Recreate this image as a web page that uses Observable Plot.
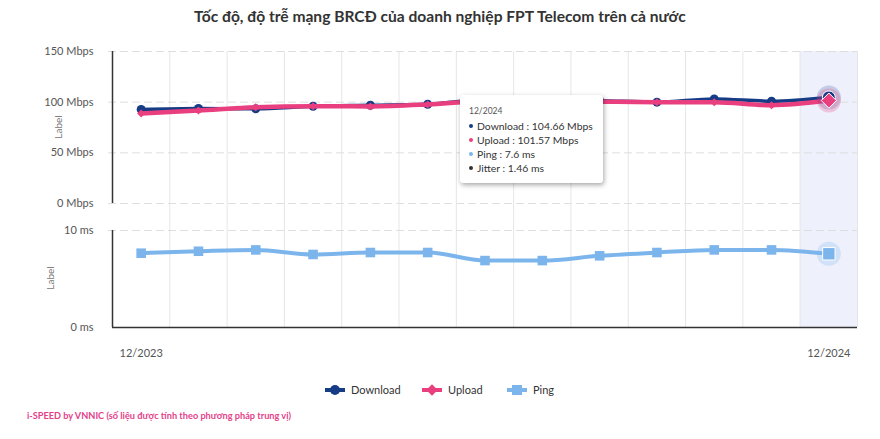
<!DOCTYPE html>
<html><head><meta charset="utf-8">
<script src="https://cdn.jsdelivr.net/npm/d3@7"></script>
<script src="https://cdn.jsdelivr.net/npm/@observablehq/plot@0.6"></script>
<style>
body{margin:0;background:#fff;font-family:Lato,"Noto Sans",sans-serif;}
#wrap{position:relative;width:880px;height:439px;overflow:hidden;background:#fff;}
#title{position:absolute;left:0;width:880px;top:7px;text-align:center;font-weight:700;font-size:15.6px;color:#333;}
.plot{position:absolute;left:0;}
.plot svg{overflow:visible;}
.ylab{position:absolute;font-size:10px;color:#777;transform:translate(-50%,-50%) rotate(-90deg);white-space:nowrap;}
.leg{position:absolute;top:383px;display:flex;align-items:center;font-size:11px;color:#333;}
.leg svg{margin-right:6px;}
#caption{position:absolute;left:27px;top:410px;font-size:9.2px;font-weight:700;color:#e4418a;white-space:nowrap;}
#tip{position:absolute;left:460px;top:95px;width:143px;height:88px;box-sizing:border-box;background:#fff;border-radius:3px;box-shadow:1px 2px 5px rgba(0,0,0,0.35);padding:9px 8px 0 9px;font-size:10.4px;color:#333;line-height:14px;white-space:nowrap;}
#tip .hd{font-size:8.5px;color:#555;margin-bottom:1px;}
#tip .b{display:inline-block;width:4px;height:4px;border-radius:50%;margin-right:4px;vertical-align:middle;position:relative;top:-1px;}
</style></head><body>
<div id="wrap">
  <div id="title">Tốc độ, độ trễ mạng BRCĐ của doanh nghiệp FPT Telecom trên cả nước</div>
  <div id="top" class="plot" style="top:40px"></div>
  <div id="bot" class="plot" style="top:203px"></div>
  <div class="ylab" style="left:58px;top:127px">Label</div>
  <div class="ylab" style="left:50px;top:278px">Label</div>
  <div id="legend"></div>
  <div id="tip"></div>
  <div id="caption">i-SPEED by VNNIC (số liệu được tính theo phương pháp trung vị)</div>
</div>
<script>
const months = ["12/2023","01/2024","02/2024","03/2024","04/2024","05/2024","06/2024","07/2024","08/2024","09/2024","10/2024","11/2024","12/2024"];
const download = [92.8, 93.8, 93.4, 96, 97, 98, 102.5, 102, 101.5, 100, 103.2, 101, 104.66];
const upload   = [88.9, 91.8, 95, 96, 95.8, 97.7, 101, 101, 100.5, 100, 100, 97, 101.57];
const ping     = [7.66, 7.86, 8.0, 7.53, 7.73, 7.73, 6.9, 6.9, 7.39, 7.73, 8.0, 8.0, 7.6];
const jitterLast = 1.46;
const mbpsTicks = [0, 50, 100, 150];
const msTicks = [0, 10];
const seriesNames = ["Download", "Upload", "Ping"];

const C = {download: "#173c86", upload: "#ea3f7f", ping: "#7cb5ec", grid: "#e6e6e6", dash: "#dedede", axis: "#333", band: "#eef0fc"};

const rows = months.map((m, i) => ({i, m, download: download[i], upload: upload[i], ping: ping[i]}));
const last = rows[rows.length - 1];
const body = rows.slice(0, -1);
const edges = rows.map(d => d.i + 0.5);
const xDomain = [-0.5, months.length - 0.5];
const curve = "monotone-x";
const font = {background: "transparent", overflow: "visible", fontFamily: "Lato, 'Noto Sans', sans-serif", fontSize: "11px", color: "#555"};

const topPlot = Plot.plot({
  width: 880, height: 163, marginTop: 11, marginBottom: 0, marginLeft: 112, marginRight: 23,
  style: font,
  x: {type: "linear", domain: xDomain, axis: null},
  y: {domain: [0, 150], ticks: mbpsTicks, tickFormat: d => `${d} Mbps`, tickSize: 0, tickPadding: 19, label: null},
  marks: [
    Plot.rect([last], {x1: d => d.i - 0.5, x2: d => d.i + 0.5, fill: C.band}),
    Plot.ruleX(edges, {stroke: C.grid}),
    Plot.ruleY(mbpsTicks, {stroke: C.dash, strokeDasharray: "8,4", insetLeft: -4}),
    Plot.ruleX([xDomain[0]], {stroke: C.axis, strokeWidth: 1.5}),
    Plot.line(rows, {x: "i", y: "download", stroke: C.download, strokeWidth: 3.5, curve}),
    Plot.dot(body, {x: "i", y: "download", r: 4.5, fill: C.download}),
    Plot.line(rows, {x: "i", y: "upload", stroke: C.upload, strokeWidth: 4.5, curve}),
    Plot.dot(body, {x: "i", y: "upload", symbol: "diamond2", r: 3.6, fill: C.upload}),
    Plot.dot([last], {x: "i", y: "download", r: 12, fill: C.download, fillOpacity: 0.2}),
    Plot.dot([last], {x: "i", y: "upload", r: 12, fill: C.upload, fillOpacity: 0.25}),
    Plot.dot([last], {x: "i", y: "download", r: 6.5, fill: C.download, stroke: "#fff", strokeWidth: 1}),
    Plot.dot([last], {x: "i", y: "upload", symbol: "diamond2", r: 6.8, fill: C.upload, stroke: "#fff", strokeWidth: 1})
  ]
});
document.getElementById("top").append(topPlot);

const botPlot = Plot.plot({
  width: 880, height: 162, marginTop: 27, marginBottom: 38, marginLeft: 112, marginRight: 23,
  style: font,
  x: {type: "linear", domain: xDomain, ticks: [0, months.length - 1], tickFormat: i => months[i], tickSize: 0, tickPadding: 22, label: null},
  y: {domain: [0, 10], ticks: msTicks, tickFormat: d => `${d} ms`, tickSize: 0, tickPadding: 19, label: null},
  marks: [
    Plot.rect([last], {x1: d => d.i - 0.5, x2: d => d.i + 0.5, fill: C.band, insetTop: -27}),
    Plot.ruleX(edges, {stroke: C.grid, insetTop: -27}),
    Plot.ruleY(msTicks.slice(1), {stroke: C.dash, strokeDasharray: "8,4", insetLeft: -4}),
    Plot.ruleX([xDomain[0]], {stroke: C.axis, strokeWidth: 1.5}),
    Plot.ruleY([0], {stroke: C.axis, strokeWidth: 1.5}),
    Plot.line(rows, {x: "i", y: "ping", stroke: C.ping, strokeWidth: 4, curve}),
    Plot.dot(body, {x: "i", y: "ping", symbol: "square", r: 5.4, fill: C.ping}),
    Plot.dot([last], {x: "i", y: "ping", r: 12, fill: C.ping, fillOpacity: 0.25}),
    Plot.dot([last], {x: "i", y: "ping", symbol: "square", r: 7, fill: C.ping, stroke: "#fff", strokeWidth: 1})
  ]
});
document.getElementById("bot").append(botPlot);

// legend
const legPos = [325, 422, 507];
const legSym = [
  `<circle cx="10" cy="6" r="5" fill="${C.download}"/>`,
  `<rect x="6" y="2" width="8" height="8" fill="${C.upload}" transform="rotate(45 10 6)"/>`,
  `<rect x="5" y="1" width="10" height="10" fill="${C.ping}"/>`
];
const legCol = [C.download, C.upload, C.ping];
const legEl = document.getElementById("legend");
seriesNames.forEach((n, k) => {
  const d = document.createElement("div");
  d.className = "leg";
  d.style.left = legPos[k] + "px";
  d.innerHTML = `<svg width="20" height="12"><line x1="0" x2="20" y1="6" y2="6" stroke="${legCol[k]}" stroke-width="4"/>${legSym[k]}</svg><span>${n}</span>`;
  legEl.append(d);
});

// tooltip
const tipLines = [
  ["Download", download[download.length - 1] + " Mbps", C.download],
  ["Upload", upload[upload.length - 1] + " Mbps", C.upload],
  ["Ping", ping[ping.length - 1] + " ms", C.ping],
  ["Jitter", jitterLast + " ms", "#333"]
];
document.getElementById("tip").innerHTML = `<div class="hd">${months[months.length - 1]}</div>` +
  tipLines.map(([n, v, c]) => `<div><span class="b" style="background:${c}"></span>${n} : ${v}</div>`).join("");
</script>
</body></html>
